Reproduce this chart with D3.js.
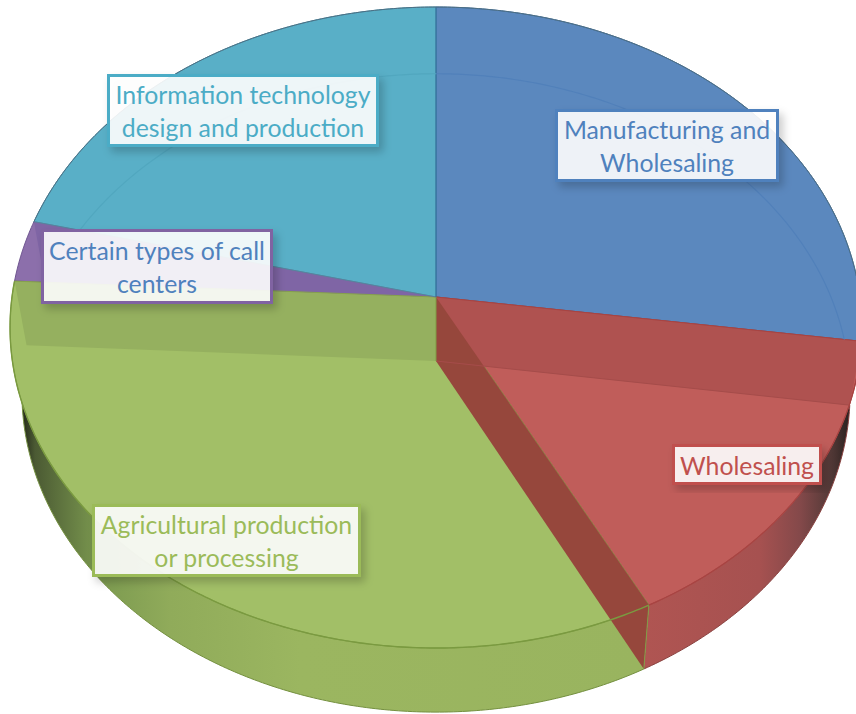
<!DOCTYPE html>
<html>
<head>
<meta charset="utf-8">
<script src="https://cdn.jsdelivr.net/npm/d3@7"></script>
<style>
  html, body { margin: 0; padding: 0; background: #fff; overflow: hidden; }
  svg { display: block; }
</style>
</head>
<body>
<svg width="856" height="714"></svg>
<script>
// Values, clockwise from 12 o'clock
const sectors = ["Manufacturing and Wholesaling", "Wholesaling", "Agricultural production or processing", "Certain types of call centers", "Information technology design and production"];
const shares = [27.2, 15.2, 33.4, 3.1, 21.1];
const topColors = ["#5b88be", "#c05d5a", "#a2bf67", "#8c6fab", "#59afc7"];
const edgeColors = ["#3f6c9f", "#a84442", "#7f9c45", "#6f5590", "#4597ad"];
const labelLines = [["Manufacturing and", "Wholesaling"], ["Wholesaling"], ["Agricultural production", "or processing"], ["Certain types of call", "centers"], ["Information technology", "design and production"]];
const labelColors = ["#4f81bd", "#c0504d", "#9bbb59", "#4f81bd", "#4bacc6"];
const borderColors = ["#4f81bd", "#c0504d", "#9bbb59", "#8064a2", "#4bacc6"];

const svg = d3.select("svg");
const defs = svg.append("defs");

// Tilted disc: the two faces of the pie, with a bit of perspective
const topFace = { cx: 436, apexY: 297, r: 424, b: 317.6, k: 0.0952 };
const bottomFace = { cx: 436, apexY: 361, r: 412, b: 316, k: 0.1 };

function project(a, face) {
   const u = Math.sin(a), v = -Math.cos(a), w = 1 - face.k * v;
   return [face.cx + face.r * u / w, face.apexY + face.b * v / w];
}

function arcPoints(a0, a1, face) {
   const n = Math.max(2, Math.ceil(Math.abs(a1 - a0) / 0.01));
   return d3.range(n + 1).map(i => project(a0 + (a1 - a0) * i / n, face));
}

const line = d3.line();
const slices = d3.pie().sort(null)(shares);
const apex = f => [f.cx, f.apexY];

function slicePath(d, face) {
   return line([apex(face), ...arcPoints(d.startAngle, d.endAngle, face)]) + "Z";
}

// Flat wall along one radial edge of a slice
function radialWall(a) {
   return line([apex(topFace), project(a, topFace), project(a, bottomFace), apex(bottomFace)]) + "Z";
}

// Side wall gradients, dark toward the far ends
function sideGradient(id, stops) {
   const g = defs.append("linearGradient")
      .attr("id", id)
      .attr("gradientUnits", "userSpaceOnUse")
      .attr("x1", 0).attr("x2", 856).attr("y1", 0).attr("y2", 0);
   stops.forEach(s => g.append("stop").attr("offset", s[0] / 856).attr("stop-color", s[1]));
}
sideGradient("wall-red", [[640, "#b05552"], [760, "#a65150"], [800, "#84494a"], [830, "#553a38"], [850, "#2a211f"]]);
sideGradient("wall-green", [[20, "#1e2216"], [35, "#4b5a33"], [100, "#7c9a50"], [170, "#90ab5a"], [300, "#9bb660"], [640, "#99b45f"]]);

const shadow = defs.append("filter")
   .attr("id", "label-shadow")
   .attr("x", "-10%").attr("y", "-15%").attr("width", "125%").attr("height", "140%");
shadow.append("feDropShadow")
   .attr("dx", 4).attr("dy", 5).attr("stdDeviation", 4)
   .attr("flood-color", "#000").attr("flood-opacity", 0.22);

// One clip per top wedge, for what shows through it
slices.forEach((d, i) => {
   defs.append("clipPath").attr("id", "clip-top-" + i)
      .append("path").attr("d", slicePath(d, topFace));
});

// Side walls of the near half
[[1, "url(#wall-red)"], [2, "url(#wall-green)"]].forEach(([i, fill]) => {
   const d = slices[i];
   svg.append("path")
      .attr("d", line([...arcPoints(d.startAngle, d.endAngle, topFace), ...arcPoints(d.endAngle, d.startAngle, bottomFace)]) + "Z")
      .attr("fill", fill);
   svg.append("path")
      .attr("d", line(arcPoints(d.startAngle, d.endAngle, bottomFace)))
      .attr("fill", "none")
      .attr("stroke", i === 1 ? "#8a4240" : "#74903f")
      .attr("stroke-width", 1);
});

// Top face
svg.selectAll("path.slice")
   .data(slices)
   .enter().append("path")
   .attr("class", "slice")
   .attr("d", d => slicePath(d, topFace))
   .attr("fill", (d, i) => topColors[i])
   .attr("stroke", (d, i) => edgeColors[i])
   .attr("stroke-width", 1);

// Radial walls seen through the top face
svg.append("path").attr("d", radialWall(slices[1].startAngle)).attr("fill", "#af5250");
svg.append("path").attr("d", radialWall(slices[2].endAngle)).attr("fill", "#95b05f");
svg.append("path")
   .attr("d", radialWall(slices[3].endAngle))
   .attr("fill", "#7f65a5")
   .attr("clip-path", "url(#clip-top-3)");
svg.append("path").attr("d", radialWall(slices[1].endAngle)).attr("fill", "#96473c");

// Edge lines on top of the walls
const strokes = [
   [[project(slices[1].startAngle, topFace), apex(topFace)], "#a84442"],
   [[project(slices[1].startAngle, bottomFace), apex(bottomFace)], "#a54c4a"],
   [[project(slices[1].endAngle, topFace), project(slices[1].endAngle, bottomFace)], "#7f9c45"],
   [[project(slices[2].endAngle, topFace), apex(topFace)], "#86a24c"],
   [[apex(topFace), apex(bottomFace)], "#7f9c45"],
   [[project(slices[3].endAngle, topFace), apex(topFace)], "#5d7f9c"],
   [[project(slices[0].startAngle, topFace), apex(topFace)], "#35699b"]
];
strokes.forEach(([pts, color]) => {
   svg.append("path").attr("d", line(pts)).attr("fill", "none").attr("stroke", color).attr("stroke-width", 1);
});

// Near rim of the top face
[[1, "#a84442", 1.2], [2, "#7a9a40", 1.4]].forEach(([i, color, w]) => {
   svg.append("path")
      .attr("d", line(arcPoints(slices[i].startAngle, slices[i].endAngle, topFace)))
      .attr("fill", "none")
      .attr("stroke", color)
      .attr("stroke-width", w);
});

// Far rim of the bottom face, faint through the top
[[0, "#5180ba"], [4, "#51a7bf"]].forEach(([i, color]) => {
   svg.append("path")
      .attr("d", line(arcPoints(slices[i].startAngle, slices[i].endAngle, bottomFace)))
      .attr("fill", "none")
      .attr("stroke", color)
      .attr("stroke-width", 1.2)
      .attr("clip-path", "url(#clip-top-" + i + ")");
});

// Thin dark outline on the far rim of the top face
[0, 4].forEach(i => {
   svg.append("path")
      .attr("d", line(arcPoints(slices[i].startAngle, slices[i].endAngle, topFace)))
      .attr("fill", "none")
      .attr("stroke", "#4d6f84")
      .attr("stroke-width", 1);
});

// Labels: left, top, width, height of each box
const labelBoxes = [[556.5, 110.5, 221, 70], [673.5, 445.5, 147, 38], [93.5, 505.5, 266, 70], [42.5, 230.5, 229, 72], [108.5, 75.5, 269, 70]];

labelBoxes.forEach((box, i) => {
   const [x, y, w, h] = box;
   svg.append("rect")
      .attr("x", x).attr("y", y).attr("width", w).attr("height", h)
      .attr("fill", "#fff")
      .attr("fill-opacity", 0.89)
      .attr("stroke", borderColors[i])
      .attr("stroke-width", 3)
      .attr("filter", "url(#label-shadow)");
   labelLines[i].forEach((t, j) => {
      const baseline = y + h / 2 + 10 + (j - (labelLines[i].length - 1) / 2) * 32.5;
      svg.append("text")
         .attr("x", x + w / 2)
         .attr("y", baseline)
         .attr("fill", labelColors[i])
         .attr("font-size", "24.8px")
         .attr("font-family", "Lato, sans-serif")
         .attr("text-anchor", "middle")
         .text(t);
   });
});
</script>
</body>
</html>
